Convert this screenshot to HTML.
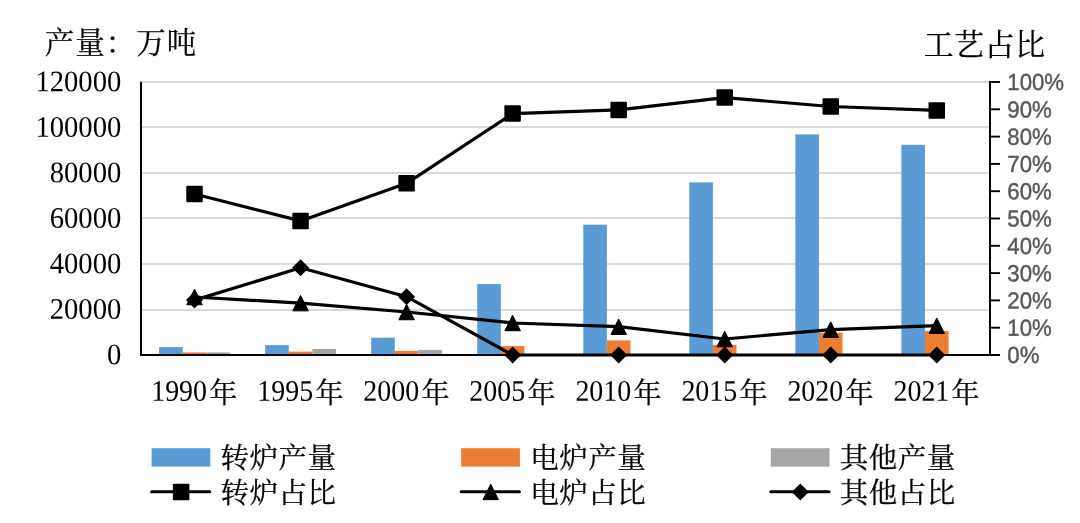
<!DOCTYPE html>
<html lang="zh-CN">
<head>
<meta charset="utf-8">
<title>转炉、电炉产量与工艺占比</title>
<style>
html,body{margin:0;padding:0;background:#fff;}
body{width:1080px;height:523px;overflow:hidden;}
svg{display:block;}
.s{font-family:"Liberation Serif","Noto Serif CJK SC",serif;fill:#000;}
.p{font-family:"Liberation Sans",sans-serif;fill:#595959;}
.c{stroke:#000;stroke-width:0.25px;}
</style>
</head>
<body>
<svg width="1080" height="523" viewBox="0 0 1080 523">
<rect x="0" y="0" width="1080" height="523" fill="#fff"/>
<g stroke="#d9d9d9" stroke-width="2">
<line x1="141.5" y1="310.00" x2="989.8" y2="310.00"/>
<line x1="141.5" y1="264.00" x2="989.8" y2="264.00"/>
<line x1="141.5" y1="218.00" x2="989.8" y2="218.00"/>
<line x1="141.5" y1="173.00" x2="989.8" y2="173.00"/>
<line x1="141.5" y1="127.00" x2="989.8" y2="127.00"/>
<line x1="141.5" y1="82.00" x2="989.8" y2="82.00"/>
</g>
<g fill="#5b9bd5">
<rect x="159.12" y="347.10" width="23.60" height="7.90"/>
<rect x="265.16" y="345.10" width="23.60" height="9.90"/>
<rect x="371.19" y="337.70" width="23.60" height="17.30"/>
<rect x="477.23" y="284.00" width="23.60" height="71.00"/>
<rect x="583.27" y="224.70" width="23.60" height="130.30"/>
<rect x="689.31" y="182.40" width="23.60" height="172.60"/>
<rect x="795.34" y="134.40" width="23.60" height="220.60"/>
<rect x="901.38" y="144.80" width="23.60" height="210.20"/>
</g>
<g fill="#ed7d31">
<rect x="182.72" y="352.40" width="23.60" height="2.60"/>
<rect x="288.76" y="351.60" width="23.60" height="3.40"/>
<rect x="394.79" y="350.90" width="23.60" height="4.10"/>
<rect x="500.83" y="346.10" width="23.60" height="8.90"/>
<rect x="606.87" y="340.40" width="23.60" height="14.60"/>
<rect x="712.91" y="344.90" width="23.60" height="10.10"/>
<rect x="818.94" y="332.70" width="23.60" height="22.30"/>
<rect x="924.98" y="331.00" width="23.60" height="24.00"/>
</g>
<g fill="#a5a5a5">
<rect x="206.32" y="352.40" width="23.60" height="2.60"/>
<rect x="312.36" y="348.90" width="23.60" height="6.10"/>
<rect x="418.39" y="349.90" width="23.60" height="5.10"/>
</g>
<g stroke="#000" stroke-width="2" fill="none">
<line x1="141" y1="81.7" x2="141" y2="356"/>
<line x1="140" y1="355" x2="1000" y2="355"/>
<line x1="990" y1="81" x2="990" y2="356"/>
</g>
<g stroke="#000" stroke-width="1.9">
<line x1="990.0" y1="355.00" x2="1000.0" y2="355.00"/>
<line x1="990.0" y1="327.70" x2="1000.0" y2="327.70"/>
<line x1="990.0" y1="300.40" x2="1000.0" y2="300.40"/>
<line x1="990.0" y1="273.10" x2="1000.0" y2="273.10"/>
<line x1="990.0" y1="245.80" x2="1000.0" y2="245.80"/>
<line x1="990.0" y1="218.50" x2="1000.0" y2="218.50"/>
<line x1="990.0" y1="191.20" x2="1000.0" y2="191.20"/>
<line x1="990.0" y1="163.90" x2="1000.0" y2="163.90"/>
<line x1="990.0" y1="136.60" x2="1000.0" y2="136.60"/>
<line x1="990.0" y1="109.30" x2="1000.0" y2="109.30"/>
<line x1="990.0" y1="82.00" x2="1000.0" y2="82.00"/>
</g>
<g stroke="#000" stroke-width="3.2" fill="none" stroke-linejoin="round" stroke-linecap="round">
<polyline points="194.5,194.0 300.6,220.9 406.6,183.3 512.6,113.6 618.7,109.9 724.7,97.6 830.7,106.5 936.8,110.4"/>
<polyline points="194.5,297.0 300.6,303.1 406.6,312.0 512.6,323.0 618.7,326.7 724.7,339.0 830.7,329.6 936.8,325.7"/>
<polyline points="194.5,300.1 300.6,267.8 406.6,296.7 512.6,355.0 618.7,355.0 724.7,355.0 830.7,355.0 936.8,355.0"/>
</g>
<rect x="186.27" y="185.75" width="16.5" height="16.5" rx="1" fill="#000"/>
<rect x="292.31" y="212.65" width="16.5" height="16.5" rx="1" fill="#000"/>
<rect x="398.34" y="175.05" width="16.5" height="16.5" rx="1" fill="#000"/>
<rect x="504.38" y="105.35" width="16.5" height="16.5" rx="1" fill="#000"/>
<rect x="610.42" y="101.65" width="16.5" height="16.5" rx="1" fill="#000"/>
<rect x="716.46" y="89.35" width="16.5" height="16.5" rx="1" fill="#000"/>
<rect x="822.49" y="98.25" width="16.5" height="16.5" rx="1" fill="#000"/>
<rect x="928.53" y="102.15" width="16.5" height="16.5" rx="1" fill="#000"/>
<polygon points="194.52,289.25 202.27,304.75 186.77,304.75" fill="#000" stroke="#000" stroke-width="1" stroke-linejoin="round"/>
<polygon points="300.56,295.35 308.31,310.85 292.81,310.85" fill="#000" stroke="#000" stroke-width="1" stroke-linejoin="round"/>
<polygon points="406.59,304.25 414.34,319.75 398.84,319.75" fill="#000" stroke="#000" stroke-width="1" stroke-linejoin="round"/>
<polygon points="512.63,315.25 520.38,330.75 504.88,330.75" fill="#000" stroke="#000" stroke-width="1" stroke-linejoin="round"/>
<polygon points="618.67,318.95 626.42,334.45 610.92,334.45" fill="#000" stroke="#000" stroke-width="1" stroke-linejoin="round"/>
<polygon points="724.71,331.25 732.46,346.75 716.96,346.75" fill="#000" stroke="#000" stroke-width="1" stroke-linejoin="round"/>
<polygon points="830.74,321.85 838.49,337.35 822.99,337.35" fill="#000" stroke="#000" stroke-width="1" stroke-linejoin="round"/>
<polygon points="936.78,317.95 944.53,333.45 929.03,333.45" fill="#000" stroke="#000" stroke-width="1" stroke-linejoin="round"/>
<polygon points="194.52,291.60 203.02,300.10 194.52,308.60 186.02,300.10" fill="#000"/>
<polygon points="300.56,259.30 309.06,267.80 300.56,276.30 292.06,267.80" fill="#000"/>
<polygon points="406.59,288.20 415.09,296.70 406.59,305.20 398.09,296.70" fill="#000"/>
<polygon points="512.63,346.50 521.13,355.00 512.63,363.50 504.13,355.00" fill="#000"/>
<polygon points="618.67,346.50 627.17,355.00 618.67,363.50 610.17,355.00" fill="#000"/>
<polygon points="724.71,346.50 733.21,355.00 724.71,363.50 716.21,355.00" fill="#000"/>
<polygon points="830.74,346.50 839.24,355.00 830.74,363.50 822.24,355.00" fill="#000"/>
<polygon points="936.78,346.50 945.28,355.00 936.78,363.50 928.28,355.00" fill="#000"/>
<g class="s" font-size="29.9" text-anchor="end">
<text transform="translate(121.3,364.2) rotate(0.03) scale(0.958,1)">0</text>
<text transform="translate(121.3,318.7) rotate(0.03) scale(0.958,1)">20000</text>
<text transform="translate(121.3,273.2) rotate(0.03) scale(0.958,1)">40000</text>
<text transform="translate(121.3,227.7) rotate(0.03) scale(0.958,1)">60000</text>
<text transform="translate(121.3,182.2) rotate(0.03) scale(0.958,1)">80000</text>
<text transform="translate(121.3,136.7) rotate(0.03) scale(0.958,1)">100000</text>
<text transform="translate(121.3,91.2) rotate(0.03) scale(0.958,1)">120000</text>
</g>
<g class="p" font-size="23.3" stroke="#595959" stroke-width="0.45">
<text transform="translate(1007.3,363.1) rotate(0.03) scale(0.953,1)">0%</text>
<text transform="translate(1007.3,335.8) rotate(0.03) scale(0.953,1)">10%</text>
<text transform="translate(1007.3,308.5) rotate(0.03) scale(0.953,1)">20%</text>
<text transform="translate(1007.3,281.2) rotate(0.03) scale(0.953,1)">30%</text>
<text transform="translate(1007.3,253.9) rotate(0.03) scale(0.953,1)">40%</text>
<text transform="translate(1007.3,226.6) rotate(0.03) scale(0.953,1)">50%</text>
<text transform="translate(1007.3,199.3) rotate(0.03) scale(0.953,1)">60%</text>
<text transform="translate(1007.3,172.0) rotate(0.03) scale(0.953,1)">70%</text>
<text transform="translate(1007.3,144.7) rotate(0.03) scale(0.953,1)">80%</text>
<text transform="translate(1007.3,117.4) rotate(0.03) scale(0.953,1)">90%</text>
<text transform="translate(1007.3,90.1) rotate(0.03) scale(0.953,1)">100%</text>
</g>
<g class="s">
<text font-size="29.9" transform="translate(151.2,400.7) rotate(0.03) scale(0.933,1)">1990</text><text class="c" font-size="28" x="209.3" y="402.6">年</text>
<text font-size="29.9" transform="translate(257.3,400.7) rotate(0.03) scale(0.933,1)">1995</text><text class="c" font-size="28" x="315.4" y="402.6">年</text>
<text font-size="29.9" transform="translate(363.3,400.7) rotate(0.03) scale(0.933,1)">2000</text><text class="c" font-size="28" x="421.4" y="402.6">年</text>
<text font-size="29.9" transform="translate(469.3,400.7) rotate(0.03) scale(0.933,1)">2005</text><text class="c" font-size="28" x="527.4" y="402.6">年</text>
<text font-size="29.9" transform="translate(575.4,400.7) rotate(0.03) scale(0.933,1)">2010</text><text class="c" font-size="28" x="633.5" y="402.6">年</text>
<text font-size="29.9" transform="translate(681.4,400.7) rotate(0.03) scale(0.933,1)">2015</text><text class="c" font-size="28" x="739.5" y="402.6">年</text>
<text font-size="29.9" transform="translate(787.4,400.7) rotate(0.03) scale(0.933,1)">2020</text><text class="c" font-size="28" x="845.5" y="402.6">年</text>
<text font-size="29.9" transform="translate(893.5,400.7) rotate(0.03) scale(0.933,1)">2021</text><text class="c" font-size="28" x="951.6" y="402.6">年</text>
</g>
<text class="s c" font-size="29.5" letter-spacing="1" x="44.8" y="53.3">产量：万吨</text>
<text class="s c" font-size="29.8" letter-spacing="0.7" x="923.8" y="54.7">工艺占比</text>
<rect x="151.6" y="448.2" width="58.7" height="18.4" fill="#5b9bd5"/>
<line x1="151.6" y1="491.8" x2="209.8" y2="491.8" stroke="#000" stroke-width="3" stroke-linecap="round"/>
<rect x="172.85" y="483.65" width="16.5" height="16.5" rx="1" fill="#000"/>
<text class="s c" font-size="28.5" letter-spacing="0.5" x="220.6" y="468.3">转炉产量</text>
<text class="s c" font-size="28.5" letter-spacing="0.5" x="220.6" y="502.7">转炉占比</text>
<rect x="461.2" y="448.2" width="58.7" height="18.4" fill="#ed7d31"/>
<line x1="461.2" y1="491.8" x2="519.4" y2="491.8" stroke="#000" stroke-width="3" stroke-linecap="round"/>
<polygon points="490.70,484.15 498.45,499.65 482.95,499.65" fill="#000" stroke="#000" stroke-width="1" stroke-linejoin="round"/>
<text class="s c" font-size="28.5" letter-spacing="0.5" x="530.2" y="468.3">电炉产量</text>
<text class="s c" font-size="28.5" letter-spacing="0.5" x="530.2" y="502.7">电炉占比</text>
<rect x="770.8" y="448.2" width="58.7" height="18.4" fill="#a5a5a5"/>
<line x1="770.8" y1="491.8" x2="829.0" y2="491.8" stroke="#000" stroke-width="3" stroke-linecap="round"/>
<polygon points="800.30,483.40 808.80,491.90 800.30,500.40 791.80,491.90" fill="#000"/>
<text class="s c" font-size="28.5" letter-spacing="0.5" x="839.8" y="468.3">其他产量</text>
<text class="s c" font-size="28.5" letter-spacing="0.5" x="839.8" y="502.7">其他占比</text>
</svg>
</body>
</html>
